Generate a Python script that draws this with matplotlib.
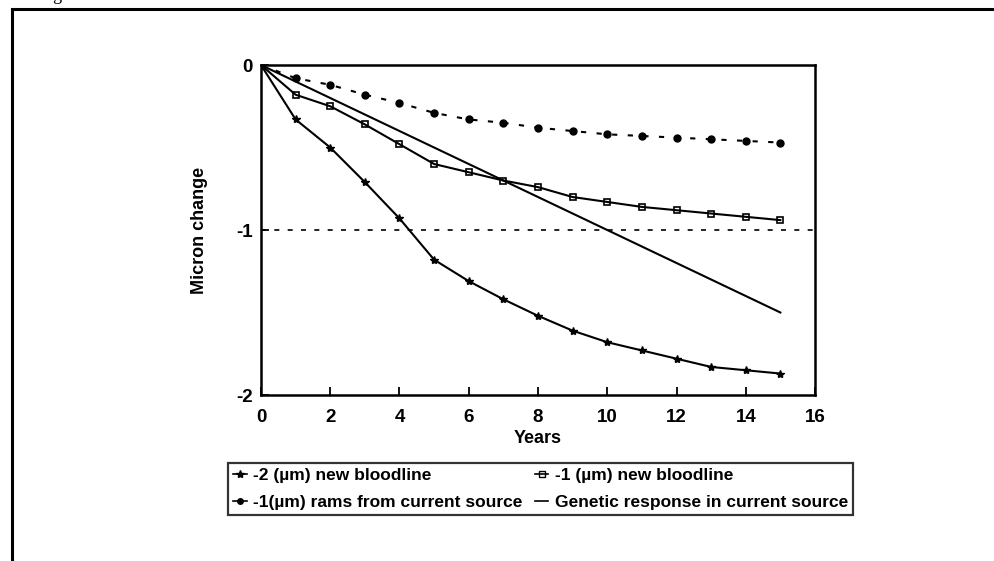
import matplotlib.pyplot as plt
from matplotlib.lines import Line2D

plt.rcParams['font.family'] = ['Liberation Sans', 'DejaVu Sans']
plt.rcParams['axes.unicode_minus'] = False

# years on the x axis
years = list(range(0, 16))

# -2 (um) new bloodline
new2 = [0, -0.33, -0.50, -0.71, -0.93, -1.18, -1.31, -1.42, -1.52, -1.61,
        -1.68, -1.73, -1.78, -1.83, -1.85, -1.87]
# -1 (um) new bloodline
new1 = [0, -0.18, -0.25, -0.36, -0.48, -0.60, -0.65, -0.70, -0.74, -0.80,
        -0.83, -0.86, -0.88, -0.90, -0.92, -0.94]
# -1 (um) rams from current source
rams = [0, -0.08, -0.12, -0.18, -0.23, -0.29, -0.33, -0.35, -0.38, -0.40,
        -0.42, -0.43, -0.44, -0.45, -0.46, -0.47]
# genetic response in current source
genetic = [0, -0.10, -0.20, -0.30, -0.40, -0.50, -0.60, -0.70, -0.80, -0.90,
           -1.00, -1.10, -1.20, -1.30, -1.40, -1.50]

target = -1

labels = ['-2 (\u00b5m) new bloodline', '-1 (\u00b5m) new bloodline',
          '-1(\u00b5m) rams from current source', 'Genetic response in current source']

fig = plt.figure(figsize=(9.95, 5.61), dpi=100)
ax = fig.add_axes([0.2623, 0.2959, 0.5568, 0.5882])

ax.plot(years, new2, color='black', lw=1.5, marker='*', ms=6)
ax.plot(years, new1, color='black', lw=1.5, marker='s', ms=5, fillstyle='none', mew=1.2)
ax.plot(years, rams, color='black', lw=1.5, ls=(0, (2.5, 5)), marker='o', ms=5)
ax.plot(years, genetic, color='black', lw=1.5)
ax.axhline(target, color='black', lw=1.2, ls=(0, (3, 5)))

ax.set_xlim(0, 16)
ax.set_ylim(-2, 0)
ax.set_xticks(range(0, 17, 2))
ax.set_yticks([0, -1, -2])
ax.tick_params(direction='in', length=6, width=1.3, labelsize=13.5)
ax.tick_params(axis='x', pad=10)
ax.tick_params(axis='y', pad=6)
for lab in ax.get_xticklabels() + ax.get_yticklabels():
    lab.set_fontweight('bold')
for s in ax.spines.values():
    s.set_linewidth(1.8)

ax.set_xlabel('Years', fontsize=13, fontweight='bold', labelpad=3)
ax.set_ylabel('Micron change', fontsize=13, fontweight='bold', labelpad=20)

handles = [
    Line2D([], [], color='black', lw=1.2, marker='*', ms=6),
    Line2D([], [], color='black', lw=1.2, marker='s', ms=4, fillstyle='none'),
    Line2D([], [], color='black', lw=1.2, marker='o', ms=4),
    Line2D([], [], color='black', lw=1.2),
]
# order so that columns read row-wise like the original
order = [0, 2, 1, 3]
leg = fig.legend([handles[i] for i in order], [labels[i] for i in order],
                 ncol=2, loc='upper left', bbox_to_anchor=(0.229, 0.1747),
                 prop={'size': 12.5, 'weight': 'bold'}, frameon=True, fancybox=False,
                 edgecolor='black', handlelength=0.8, handletextpad=0.35,
                 columnspacing=0.7, borderpad=0.3, labelspacing=0.65,
                 borderaxespad=0)
leg.get_frame().set_linewidth(1.6)

# outer page frame and cut off caption
fig.add_artist(Line2D([12 / 995, 12 / 995], [0, 1 - 10 / 561], color='black', lw=2.2,
                      transform=fig.transFigure))
fig.add_artist(Line2D([12 / 995, 1], [1 - 9 / 561, 1 - 9 / 561], color='black', lw=2.2,
                      transform=fig.transFigure))
fig.text(14 / 995, 1 + 4 / 561, 'strategies.', fontsize=13, va='center', ha='left',
         family=['Liberation Serif', 'DejaVu Serif'])

fig.savefig('out.png', dpi=100)
